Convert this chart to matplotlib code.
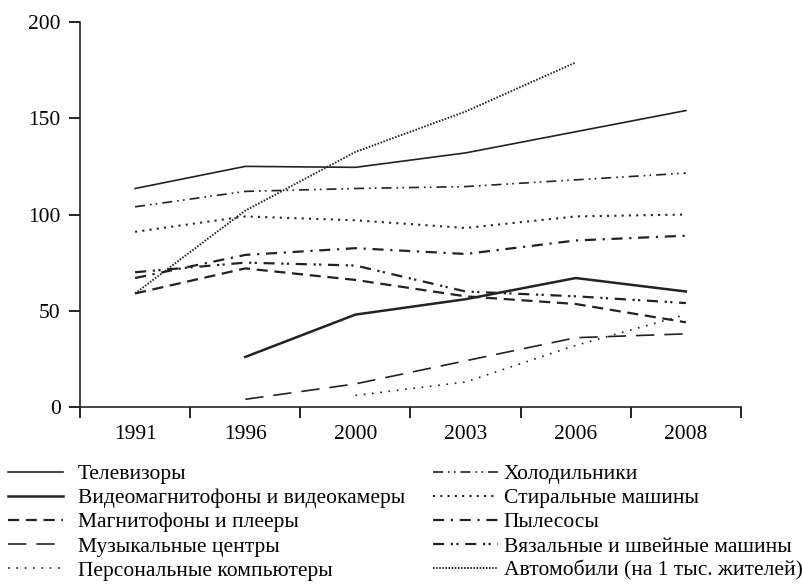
import matplotlib
matplotlib.use("Agg")
import matplotlib.pyplot as plt
import numpy as np

plt.rcParams['font.family'] = ['Liberation Serif', 'DejaVu Serif']

years = ["1991", "1996", "2000", "2003", "2006", "2008"]
nan = np.nan
tv = [113.5, 125, 124.5, 132, 143, 154]
video = [nan, 26, 48, 56, 67, 60]
tape = [59, 72, 66, 57.5, 53.5, 44]
music = [nan, 4, 12, 24, 36, 38]
pc = [nan, nan, 6, 13, 32, 48]
fridge = [104, 112, 113.5, 114.5, 118, 121.5]
washer = [91, 99, 97, 93, 99, 100]
vacuum = [67, 79, 82.5, 79.5, 86.5, 89]
sewing = [70, 75, 73.5, 60, 57.5, 54]
cars = [59, 102, 132.5, 153.5, 179, nan]

labels = ["Телевизоры", "Видеомагнитофоны и видеокамеры", "Магнитофоны и плееры",
          "Музыкальные центры", "Персональные компьютеры",
          "Холодильники", "Стиральные машины", "Пылесосы",
          "Вязальные и швейные машины", "Автомобили (на 1 тыс. жителей)"]

series = [tv, video, tape, music, pc, fridge, washer, vacuum, sewing, cars]
styles = [
    dict(lw=1.2, ls='-'),
    dict(lw=1.8, ls='-'),
    dict(lw=1.6, ls=(0, (5, 3))),
    dict(lw=1.2, ls=(0, (11, 6))),
    dict(lw=1.2, ls=(0, (1, 4))),
    dict(lw=1.2, ls=(0, (6, 3, 1, 2.5, 1, 3))),
    dict(lw=1.5, ls=(0, (1, 2.5))),
    dict(lw=1.6, ls=(0, (5, 3, 1, 3))),
    dict(lw=1.6, ls=(0, (5, 3, 1, 1.5, 1, 3))),
    dict(lw=1.4, ls=(0, (0.8, 0.8))),
]

fig = plt.figure(figsize=(8.03, 5.85), dpi=100)
ax = fig.add_axes([80/803, 1-407/585, (741-80)/803, (407-22)/585])

x = np.arange(len(years))
handles = []
for s, st, lab in zip(series, styles, labels):
    h, = ax.plot(x, s, color='#222222', label=lab, **st)
    handles.append(h)

ax.set_xlim(-0.5, 5.5)
ax.set_ylim(0, 200)
ax.set_xticks(x)
ax.set_xticklabels(years)
ax.set_xticks(np.arange(-0.5, 5.6, 1.0), minor=True)
ax.tick_params(axis='x', which='major', length=0, pad=13, labelsize=15.5)
ax.tick_params(axis='x', which='minor', length=8, width=1.2, direction='out')
ax.set_yticks([0, 50, 100, 150, 200])
ax.tick_params(axis='y', length=8, width=1.2, direction='out', pad=6, labelsize=15.5)
for sp in ['top', 'right']:
    ax.spines[sp].set_visible(False)
for sp in ['left', 'bottom']:
    ax.spines[sp].set_linewidth(1.2)
    ax.spines[sp].set_color('#222222')

fs = 15.5
leg1 = fig.legend(handles[:5], labels[:5], loc='upper left',
                  bbox_to_anchor=(8/803, 1-464/585), frameon=False, fontsize=fs,
                  handlelength=2.55, handletextpad=0.7, labelspacing=0.19,
                  borderaxespad=0, borderpad=0)
leg2 = fig.legend(handles[5:], labels[5:], loc='upper left',
                  bbox_to_anchor=(433/803, 1-464/585), frameon=False, fontsize=fs,
                  handlelength=3.0, handletextpad=0.28, labelspacing=0.19,
                  borderaxespad=0, borderpad=0)

fig.savefig("out.png", dpi=100)
